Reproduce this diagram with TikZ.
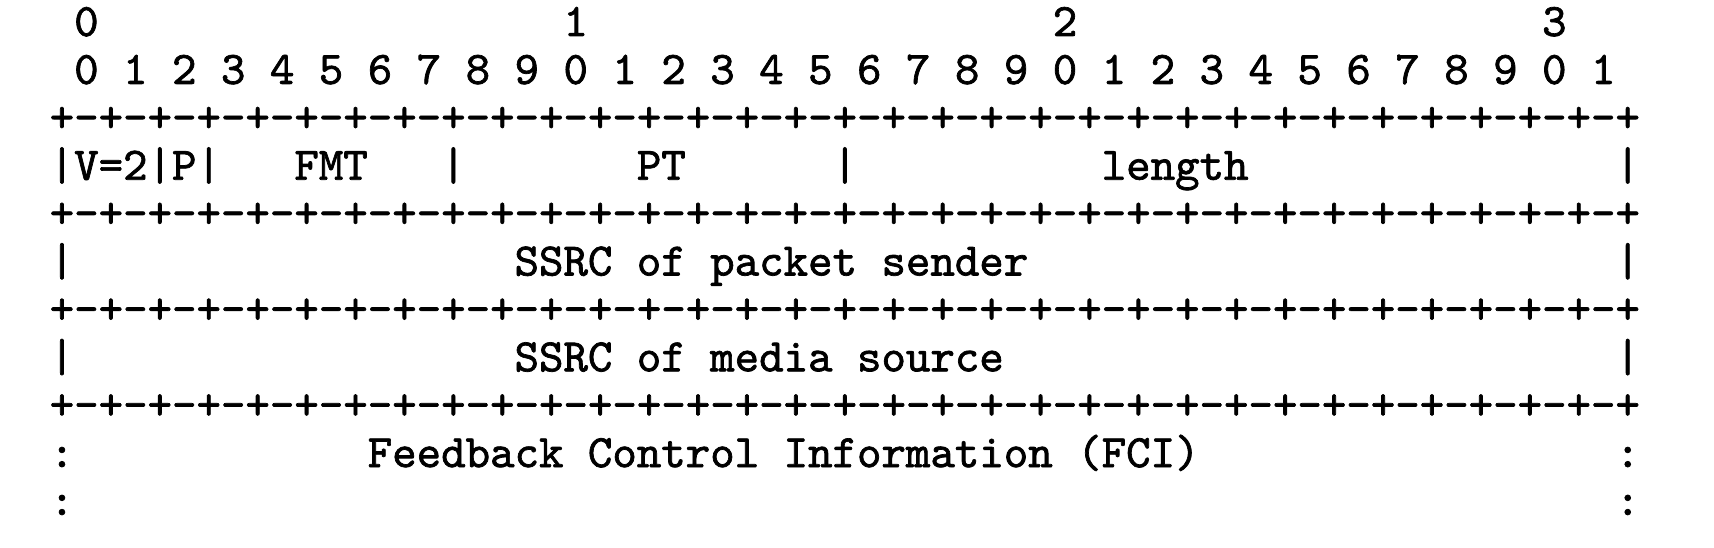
\documentclass[tikz,border=0pt]{standalone}
\usepackage{fontspec}
\setmonofont{lmmono10-regular.otf}[FakeBold=1.5]

\newcommand{\bitrule}{+-+-+-+-+-+-+-+-+-+-+-+-+-+-+-+-+-+-+-+-+-+-+-+-+-+-+-+-+-+-+-+-+}

\begin{document}
\begin{tikzpicture}[x=24.465pt,y=-47.9pt,
  every node/.style={inner sep=0pt,anchor=base west,font=\fontsize{10}{12}\selectfont\ttfamily,scale=4.66}]
  \useasboundingbox (-48.8pt,36pt) rectangle (1665.2pt,-512pt);
  % bit numbers
  \node (t0) at (1,0) {0};
  \node (t1) at (21,0) {1};
  \node (t2) at (41,0) {2};
  \node (t3) at (61,0) {3};
  \foreach \b in {0,...,31}
    \pgfmathtruncatemacro{\d}{mod(\b,10)}
    \node (b\b) at (1+2*\b,1) {\d};
  % separator lines
  \foreach \r/\y in {1/2,2/4,3/6,4/8}
    \node (sep\r) at (0,\y) {\bitrule};
  % first word
  \node (v0) at (0,3) {|};
  \node (ver) at (1,3) {V=2};
  \node (v1) at (4,3) {|};
  \node (pad) at (5,3) {P};
  \node (v2) at (6,3) {|};
  \node (fmt) at (10,3) {FMT};
  \node (v3) at (16,3) {|};
  \node (pt) at (24,3) {PT};
  \node (v4) at (32,3) {|};
  \node (len) at (43,3) {length};
  \node (v5) at (64,3) {|};
  % ssrc words
  \node (s0) at (0,5) {|};
  \node (sender) at (19,5) {SSRC of packet sender};
  \node (s1) at (64,5) {|};
  \node (m0) at (0,7) {|};
  \node (media) at (19,7) {SSRC of media source};
  \node (m1) at (64,7) {|};
  % fci
  \node (f0) at (0,9) {:};
  \node (fci) at (13,9) {Feedback Control Information (FCI)};
  \node (f1) at (64,9) {:};
  \node (g0) at (0,10) {:};
  \node (g1) at (64,10) {:};
\end{tikzpicture}
\end{document}
